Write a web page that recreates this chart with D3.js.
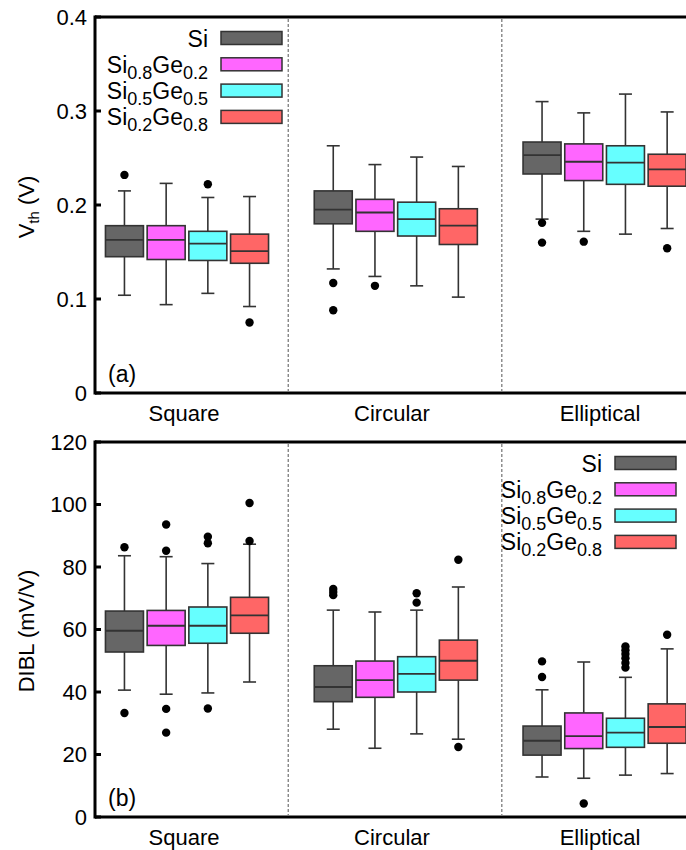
<!DOCTYPE html>
<html><head><meta charset="utf-8">
<script src="https://cdn.jsdelivr.net/npm/d3@7"></script>
<style>
body{margin:0;background:#fff}
svg{display:block}
text{font-family:"Liberation Sans",Arial,sans-serif;fill:#000}
</style>
</head><body>
<svg id="chart" width="686" height="850"></svg>
<script>
const categories = ["Square", "Circular", "Elliptical"];
const seriesNames = [
  [{t:"Si"}],
  [{t:"Si"},{t:"0.8",s:1},{t:"Ge"},{t:"0.2",s:1}],
  [{t:"Si"},{t:"0.5",s:1},{t:"Ge"},{t:"0.5",s:1}],
  [{t:"Si"},{t:"0.2",s:1},{t:"Ge"},{t:"0.8",s:1}]
];
const seriesColors = ["#666666", "#ff66ff", "#66ffff", "#ff6666"];

// [whisker low, Q1, median, Q3, whisker high] per category, per series
const vthSquare   = [[0.104,0.145,0.163,0.178,0.215],[0.094,0.142,0.163,0.178,0.223],[0.106,0.141,0.159,0.172,0.208],[0.092,0.138,0.151,0.169,0.209]];
const vthCircular = [[0.132,0.180,0.195,0.215,0.263],[0.124,0.172,0.192,0.206,0.243],[0.114,0.167,0.185,0.203,0.251],[0.102,0.158,0.178,0.196,0.241]];
const vthElliptical = [[0.185,0.233,0.253,0.267,0.310],[0.172,0.226,0.246,0.265,0.298],[0.169,0.222,0.245,0.263,0.318],[0.175,0.220,0.238,0.254,0.299]];
const vthOutSquare = [[0.232],[],[0.222],[0.075]];
const vthOutCircular = [[0.117,0.088],[0.114],[],[]];
const vthOutElliptical = [[0.181,0.160],[0.161],[],[0.154]];

const diblSquare   = [[40.6,52.8,59.6,65.9,83.6],[39.3,54.9,61.2,66.1,83.3],[39.7,55.6,61.2,67.2,81.1],[43.2,58.8,64.5,70.3,87.3]];
const diblCircular = [[28.1,36.9,41.6,48.4,66.2],[22.0,38.3,43.8,49.9,65.6],[26.6,40.0,45.8,51.3,66.2],[24.9,43.8,50.0,56.6,73.6]];
const diblElliptical = [[12.8,19.8,24.4,29.1,40.7],[12.4,21.9,25.9,33.3,49.6],[13.4,22.3,27.0,31.6,44.7],[13.9,23.6,28.8,36.2,53.8]];
const diblOutSquare = [[86.3,33.3],[93.6,85.2,34.6,27.0],[89.7,87.6,34.7],[100.5,88.3]];
const diblOutCircular = [[73.0,72.0,71.0],[],[71.6,68.6],[82.3,22.4]];
const diblOutElliptical = [[49.8,44.8],[4.3],[54.6,53.4,52.2,50.8,49.3,47.8],[58.3]];

const vthTicks = [0, 0.1, 0.2, 0.3, 0.4];
const diblTicks = [0, 20, 40, 60, 80, 100, 120];
const dividers = [0.495, 1.51];

const svg = d3.select("#chart");
const xCat = d3.scaleLinear().domain([0, 2]).range([184, 600]);
const xBox = d3.scaleLinear().domain([0, 2]).range([187, 604.6]);
const xDiv = d3.scaleLinear().domain([0, 2]).range([184, 605]);
const boxStep = 41.7, boxW = 38, capW = 13;
const leftX = 95, rightX = 720;

function drawPanel(cfg) {
  const g = svg.append("g");
  const y = d3.scaleLinear().domain(cfg.domain).range([cfg.bottom, cfg.top]);
  dividers.forEach(d => {
    g.append("line").attr("x1", xDiv(d)).attr("x2", xDiv(d))
      .attr("y1", cfg.top + 2).attr("y2", cfg.bottom - 2)
      .attr("stroke", "#555").attr("stroke-width", 1).attr("stroke-dasharray", "3,2");
  });
  cfg.stats.forEach((cat, ci) => {
    cat.forEach((s, si) => {
      const cx = xBox(ci) + (si - 1.5) * boxStep;
      const bg = g.append("g");
      bg.append("line").attr("x1", cx).attr("x2", cx).attr("y1", y(s[4])).attr("y2", y(s[3]))
        .attr("stroke", "#333").attr("stroke-width", 1.6);
      bg.append("line").attr("x1", cx).attr("x2", cx).attr("y1", y(s[1])).attr("y2", y(s[0]))
        .attr("stroke", "#333").attr("stroke-width", 1.6);
      [s[0], s[4]].forEach(v => bg.append("line").attr("x1", cx - capW/2).attr("x2", cx + capW/2)
        .attr("y1", y(v)).attr("y2", y(v)).attr("stroke", "#333").attr("stroke-width", 1.6));
      bg.append("rect").attr("x", cx - boxW/2).attr("width", boxW)
        .attr("y", y(s[3])).attr("height", y(s[1]) - y(s[3]))
        .attr("fill", seriesColors[si]).attr("stroke", "#333").attr("stroke-width", 1.6);
      bg.append("line").attr("x1", cx - boxW/2).attr("x2", cx + boxW/2)
        .attr("y1", y(s[2])).attr("y2", y(s[2])).attr("stroke", "#333").attr("stroke-width", 1.8);
      cfg.outliers[ci][si].forEach(v => bg.append("circle").attr("cx", cx).attr("cy", y(v))
        .attr("r", 4.2).attr("fill", "#000"));
    });
  });
  g.append("line").attr("x1", leftX).attr("x2", rightX).attr("y1", cfg.top).attr("y2", cfg.top)
    .attr("stroke", "#000").attr("stroke-width", 3);
  g.append("line").attr("x1", leftX).attr("x2", rightX).attr("y1", cfg.bottom).attr("y2", cfg.bottom)
    .attr("stroke", "#000").attr("stroke-width", 3);
  g.append("line").attr("x1", leftX).attr("x2", leftX).attr("y1", cfg.top - 1.5).attr("y2", cfg.bottom + 1.5)
    .attr("stroke", "#000").attr("stroke-width", 3);
  cfg.ticks.forEach(t => {
    g.append("line").attr("x1", leftX).attr("x2", leftX + 6).attr("y1", y(t)).attr("y2", y(t))
      .attr("stroke", "#000").attr("stroke-width", 3);
    g.append("text").attr("x", 87).attr("y", y(t)).attr("dy", "0.36em")
      .attr("text-anchor", "end").attr("font-size", 22).text(cfg.fmt(t));
  });
  categories.forEach((c, i) => {
    g.append("text").attr("x", xCat(i)).attr("y", cfg.bottom + 28).attr("text-anchor", "middle")
      .attr("font-size", 22).text(c);
  });
  const yl = g.append("text").attr("transform", `translate(34,${cfg.labelY}) rotate(-90)`)
    .attr("text-anchor", "middle").attr("font-size", 22);
  cfg.yLabel.forEach(p => {
    const ts = yl.append("tspan").text(p.t);
    if (p.s) ts.attr("font-size", 15).attr("dy", 5);
    else if (p.after) ts.attr("dy", -5);
  });
  g.append("text").attr("x", 108).attr("y", cfg.bottom - 11).attr("font-size", 23).text(cfg.tag);
  seriesNames.forEach((parts, i) => {
    const cy = cfg.legTop + i * 26.3;
    g.append("rect").attr("x", cfg.legX).attr("y", cy - 6.5).attr("width", 61).attr("height", 13)
      .attr("fill", seriesColors[i]).attr("stroke", "#333").attr("stroke-width", 1.5);
    const tx = g.append("text").attr("x", cfg.legX - 13).attr("y", cy + 8.5)
      .attr("text-anchor", "end").attr("font-size", 23);
    let prevSub = false;
    parts.forEach(p => {
      const ts = tx.append("tspan").text(p.t);
      if (p.s) { ts.attr("font-size", 18).attr("dy", 6); prevSub = true; }
      else if (prevSub) { ts.attr("dy", -6); prevSub = false; }
    });
  });
}

drawPanel({
  domain: [0, 0.4], top: 17, bottom: 393, ticks: vthTicks, fmt: d => d === 0 ? "0" : d3.format(".1f")(d),
  stats: [vthSquare, vthCircular, vthElliptical],
  outliers: [vthOutSquare, vthOutCircular, vthOutElliptical],
  yLabel: [{t:"V"},{t:"th",s:1},{t:" (V)",after:1}], labelY: 207,
  tag: "(a)", legX: 221, legTop: 38
});
drawPanel({
  domain: [0, 120], top: 442, bottom: 817, ticks: diblTicks, fmt: d => String(d),
  stats: [diblSquare, diblCircular, diblElliptical],
  outliers: [diblOutSquare, diblOutCircular, diblOutElliptical],
  yLabel: [{t:"DIBL (mV/V)"}], labelY: 631,
  tag: "(b)", legX: 615, legTop: 463
});
</script>
</body></html>
